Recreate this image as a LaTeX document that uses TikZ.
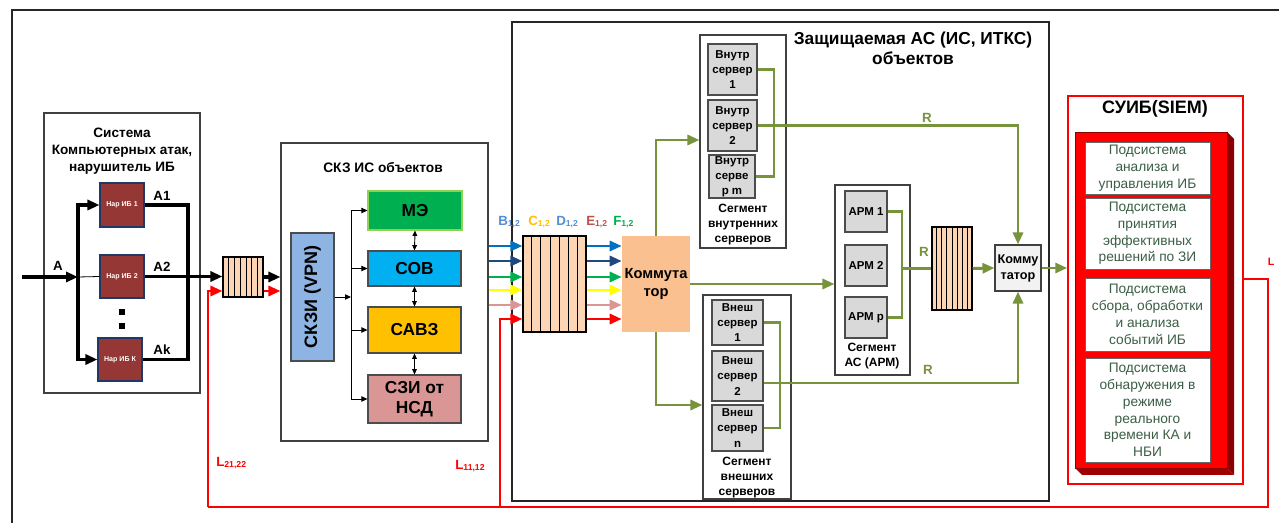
\documentclass[tikz,border=0pt]{standalone}
\usepackage{fontspec}
\setmainfont{Liberation Sans}
\usetikzlibrary{arrows.meta,calc}
\definecolor{narfill}{HTML}{953735}
\definecolor{narline}{HTML}{1F3864}
\definecolor{peach}{HTML}{FCD5B4}
\definecolor{kompeach}{HTML}{FAC090}
\definecolor{meg}{HTML}{00B050}
\definecolor{meline}{HTML}{92D050}
\definecolor{sovc}{HTML}{00B0F0}
\definecolor{savzc}{HTML}{FFC000}
\definecolor{szic}{HTML}{D99694}
\definecolor{vpnc}{HTML}{8EB4E3}
\definecolor{srvc}{HTML}{D9D9D9}
\definecolor{olive}{HTML}{77933C}
\definecolor{cblue}{HTML}{0070C0}
\definecolor{cdblue}{HTML}{1F497D}
\definecolor{cgreen}{HTML}{00B050}
\definecolor{cyellow}{HTML}{FFFF00}
\definecolor{crose}{HTML}{D99694}
\definecolor{cred}{HTML}{FF0000}
\definecolor{lbB}{HTML}{558ED5}
\definecolor{lbC}{HTML}{FFC000}
\definecolor{lbD}{HTML}{558ED5}
\definecolor{lbE}{HTML}{C0504D}
\definecolor{lbF}{HTML}{00B050}
\definecolor{siemtxt}{HTML}{3B5E45}
\definecolor{dkred}{HTML}{8B0000}
\definecolor{dkredb}{HTML}{A00000}
\newcommand\fs[2]{\fontsize{#1}{#2}\selectfont}
\newcommand\mybox[6]{\node[#1,minimum width={(#4-#2)*0.75pt},minimum height={(#5-#3)*0.75pt}] (#6) at ({(#2+#4)/2},{(#3+#5)/2})}
\newcommand\lsub[2]{#1\raisebox{-0.1ex}{\fs{6.5}{7}\bfseries #2}}
\tikzset{
 panel/.style={draw=black!75, line width=0.8pt, fill=white, inner sep=0pt},
 nar/.style={draw=narline, line width=0.8pt, fill=narfill, text=white, font=\bfseries\fs{5.3}{6}, inner sep=0pt},
 buf/.style={draw=black, line width=0.8pt, fill=peach, inner sep=0pt},
 thickblk/.style={line width=2.3pt, black},
 redl/.style={line width=2.2pt, draw=cred},
 grn/.style={line width=2.2pt, draw=olive},
 thinl/.style={line width=0.7pt, black},
 bigtip/.style={-{Triangle[length=9pt,width=7.5pt]}},
 smalltip/.style={-{Triangle[length=4.5pt,width=4pt]}},
 dbltip/.style={{Triangle[length=4pt,width=3.5pt]}-{Triangle[length=4pt,width=3.5pt]}},
 sbox/.style={draw=black!70, line width=0.8pt, font=\bfseries\fs{13}{15}, inner sep=0pt},
 srv/.style={draw=black!70, line width=0.8pt, fill=srvc, font=\bfseries\fs{8.6}{11.3}, inner sep=0pt},
 subs/.style={draw=black!60, line width=0.6pt, fill=white, text=siemtxt, font=\fs{10.3}{12.6}, inner sep=0pt},
 lab/.style={font=\bfseries\fs{10}{12}, inner sep=0pt},
 seglab/.style={font=\bfseries\fs{9}{11.25}, inner sep=0pt},
}
\begin{document}
\begin{tikzpicture}[x=0.75pt,y=-0.75pt, every node/.style={align=center}]
\useasboundingbox (0,0) rectangle (1279,523);
% outer frame
\draw[line width=1.1pt, black!85] (12,523) -- (12,10) -- (1279,10);

% ---------- attack system ----------
\mybox{panel}{44}{113}{200}{393}{atk}{};
\node[font=\bfseries\fs{10.2}{12.75}] (atkT) at (122,151) {Система\\Компьютерных атак,\\нарушитель ИБ};
\mybox{nar}{100}{183}{144}{227}{n1}{Нар ИБ 1};
\mybox{nar}{100}{255}{144}{298}{n2}{Нар ИБ 2};
\mybox{nar}{98}{338}{142}{381}{nk}{Нар ИБ К};
\node[fill, minimum size=4.5pt, inner sep=0pt] (dot1) at (122,312) {};
\node[fill, minimum size=4.5pt, inner sep=0pt] (dot2) at (122,326) {};
\coordinate (ain) at (22,277);
\coordinate (bus) at (78,277);
\coordinate (abus) at (188,0);
\draw[thickblk,bigtip] (ain) -- (bus);
\draw[line width=0.6pt] (bus) -- (n2.west);
\draw[thickblk,bigtip] (bus) |- (n1.west);
\draw[thickblk,bigtip] (bus) |- (nk.west);
\draw[thickblk] (n1.east) -| (abus |- nk.east) -- (nk.east);
\node[lab] (lA) at (58,266) {A};
\node[lab] (lA1) at (162,196) {A1};
\node[lab] (lA2) at (162,267) {A2};
\node[lab] (lAk) at (162,350) {Ak};

% small buffer
\mybox{buf}{223}{257}{263}{297}{buf1}{};
\foreach \i in {1,...,6}
  \draw[line width=0.6pt] ($(buf1.north west)!\i/7!(buf1.north east)$) -- ($(buf1.south west)!\i/7!(buf1.south east)$);
\draw[thickblk,bigtip] (n2.east) -- (buf1.west |- n2.east);

% ---------- SKZ ----------
\mybox{panel}{281}{143}{488}{441}{skz}{};
\node[font=\bfseries\fs{10.3}{12}] (skzT) at (383,168) {СКЗ ИС объектов};
\mybox{sbox,fill=vpnc}{291}{233}{334}{361}{vpn}{};
\node[rotate=90, font=\bfseries\fs{13.5}{15}] (vpnT) at (vpn) {СКЗИ (VPN)};
\mybox{sbox,fill=meg,draw=meline}{368}{191}{462}{230}{me}{МЭ};
\mybox{sbox,fill=sovc}{368}{251}{461}{286}{sov}{СОВ};
\mybox{sbox,fill=savzc}{368}{307}{461}{353}{savz}{САВЗ};
\mybox{sbox,fill=szic}{368}{375}{461}{423}{szi}{СЗИ от\\НСД};
\coordinate (sb) at (351,0);
\draw[thinl,smalltip] (vpn.east) -- (vpn.east -| sb);
\draw[thinl] (sb |- me.west) -- (sb |- szi.west);
\foreach \n in {me,sov,savz,szi}
  \draw[thinl,smalltip] (sb |- \n.west) -- (\n.west);
\draw[thinl,dbltip] (me.south) -- (sov.north);
\draw[thinl,dbltip] (sov.south) -- (savz.north);
\draw[thinl,dbltip] (savz.south) -- (szi.north);

\coordinate (yb1) at (0,291);
\draw[thickblk,bigtip] (buf1.east) -- (skz.west |- buf1.east);
\draw[redl,bigtip] (buf1.east |- yb1) -- (skz.west |- yb1);

% ---------- protected AS ----------
\mybox{panel,draw=black!85}{512}{22}{1049}{501}{zas}{};
\node[font=\bfseries\fs{13}{15}] (zasT) at (913,48) {Защищаемая АС (ИС, ИТКС)\\объектов};

\mybox{buf}{523}{236}{586}{332}{bbuf}{};
\foreach \i in {1,...,6}
  \draw[line width=0.6pt] ($(bbuf.north west)!\i/7!(bbuf.north east)$) -- ($(bbuf.south west)!\i/7!(bbuf.south east)$);
\mybox{inner sep=0pt,fill=kompeach,font=\bfseries\fs{11}{14}}{622}{236}{690}{332}{kom}{Коммута\\тор};

\node[anchor=west,lab,text=lbB] (lB) at (498,222) {\lsub{B}{1,2}};
\node[anchor=west,lab,text=lbC] (lC) at (528,222) {\lsub{C}{1,2}};
\node[anchor=west,lab,text=lbD] (lD) at (556,222) {\lsub{D}{1,2}};
\node[anchor=west,lab,text=lbE] (lE) at (586,222) {\lsub{E}{1,2}};
\node[anchor=west,lab,text=lbF] (lF) at (613,222) {\lsub{F}{1,2}};

% internal servers segment
\mybox{panel}{700}{35}{786}{248}{segI}{};
\node[seglab] (segIT) at (743,225) {Сегмент\\внутренних\\серверов};
\mybox{srv}{708}{44}{757}{95}{si1}{Внутр\\сервер\\1};
\mybox{srv}{708}{100}{757}{151}{si2}{Внутр\\сервер\\2};
\mybox{srv}{709}{155}{755}{198}{sim}{Внутр\\серве\\р m};

% external servers segment
\mybox{panel}{703}{295}{791}{499}{segE}{};
\node[seglab] (segET) at (747,478) {Сегмент\\внешних\\серверов};
\mybox{srv}{712}{300}{763}{345}{se1}{Внеш\\сервер\\1};
\mybox{srv}{712}{351}{763}{401}{se2}{Внеш\\сервер\\2};
\mybox{srv}{712}{405}{763}{451}{sen}{Внеш\\сервер\\n};

% ARM segment
\mybox{panel}{835}{185}{910}{375}{segA}{};
\node[seglab] (segAT) at (872,356) {Сегмент\\АС (АРМ)};
\mybox{srv}{845}{191}{887}{232}{a1}{АРМ 1};
\mybox{srv}{845}{245}{887}{286}{a2}{АРМ 2};
\mybox{srv}{845}{297}{887}{338}{ap}{АРМ p};

\mybox{buf}{932}{227}{972}{310}{buf2}{};
\foreach \i in {1,...,7}
  \draw[line width=0.6pt] ($(buf2.north west)!\i/8!(buf2.north east)$) -- ($(buf2.south west)!\i/8!(buf2.south east)$);
\mybox{draw=black!75,line width=0.8pt,fill=black!5,inner sep=0pt,font=\bfseries\fs{9.5}{12}}{995}{245}{1041}{291}{kom2}{Комму\\татор};

% colored arrows
\foreach \yy/\cc in {246/cblue,261/cdblue,277/cgreen,290/cyellow,305/crose}{
  \coordinate (yc) at (0,\yy);
  \draw[line width=2.2pt,draw=\cc,bigtip] (skz.east |- yc) -- (bbuf.west |- yc);
}
\foreach \yy/\cc in {246/cblue,261/cdblue,277/cgreen,290/cyellow,305/crose,319/cred}{
  \coordinate (yc) at (0,\yy);
  \draw[line width=2.2pt,draw=\cc,bigtip] (bbuf.east |- yc) -- (kom.west |- yc);
}

% green connections
\coordinate (yk1) at (0,140);
\coordinate (yk2) at (0,405);
\draw[grn,bigtip] (kom.north) |- (segI.west |- yk1);
\draw[grn,bigtip] (kom.south) |- (segE.west |- yk2);
\draw[grn,bigtip] (kom.east) -- (segA.west |- kom.east);
\coordinate (ci) at (774,0);
\draw[grn] (si1.east) -| (ci |- sim.east) -- (sim.east);
\draw[grn,bigtip] (si2.east) -| (kom2.north);
\coordinate (ce) at (780,0);
\coordinate (ylow) at (0,383);
\draw[grn] (se1.east) -| (ce |- sen.east) -- (sen.east);
\draw[grn,bigtip] (se2.east |- ylow) -| (kom2.south);
\coordinate (ca) at (902,0);
\draw[grn] (a1.east) -| (ca |- ap.east) -- (ap.east);
\draw[grn] (ca |- buf2.west) -- (buf2.west);
\draw[grn,bigtip] (buf2.east) -- (kom2.west);
\node[lab,text=olive] (R1) at (927,118) {R};
\node[lab,text=olive] (R2) at (924,252) {R};
\node[lab,text=olive] (R3) at (928,370) {R};

% ---------- SIEM ----------
\mybox{draw=cred,line width=1.1pt,fill=white,inner sep=0pt}{1068}{96}{1243}{484}{siemO}{};
\node[font=\bfseries\fs{13.5}{15}] (siemT) at (1155,109) {СУИБ(SIEM)};
\fill[dkred] (1227,132) -- (1234,139) -- (1234,475) -- (1227,468) -- cycle;
\fill[dkredb] (1075,468) -- (1227,468) -- (1234,475) -- (1082,475) -- cycle;
\mybox{draw=dkred,line width=0.6pt,fill=cred,inner sep=0pt}{1075}{132}{1227}{468}{siemF}{};
\mybox{subs}{1085}{142}{1210}{194}{s1}{Подсистема\\анализа и\\управления ИБ};
\mybox{subs}{1085}{198}{1210}{269}{s2}{Подсистема\\принятия\\эффективных\\решений по ЗИ};
\mybox{subs}{1085}{278}{1210}{351}{s3}{Подсистема\\сбора, обработки\\и анализа\\событий ИБ};
\mybox{subs}{1085}{358}{1210}{462}{s4}{Подсистема\\обнаружения в\\режиме\\реального\\времени КА и\\НБИ};
\draw[grn,bigtip] (kom2.east) -- (siemO.west |- kom2.east);

% ---------- red feedback ----------
\coordinate (Ls) at (0,279);
\coordinate (Lr) at (1268,507);
\coordinate (Lb1) at (208,507);
\coordinate (Lb2) at (500,507);
\coordinate (yb2) at (0,319);
\draw[redl] (siemO.east |- Ls) -| (Lr) -- (Lb1);
\draw[redl,bigtip] (Lb1) |- (buf1.west |- yb1);
\draw[redl,bigtip] (Lb2) |- (bbuf.west |- yb2);
\node[anchor=west,lab,text=cred] (L2) at (216,463) {\lsub{L}{21,22}};
\node[anchor=west,lab,text=cred] (L1) at (455,466) {\lsub{L}{11,12}};
\node[font=\bfseries\fs{8}{9},text=cred] (L0) at (1271,262) {L};
\end{tikzpicture}
\end{document}
